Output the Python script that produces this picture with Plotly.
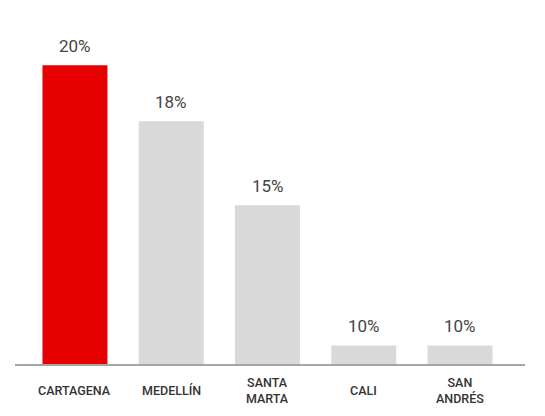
import plotly.graph_objects as go

# data
cities = ["CARTAGENA", "MEDELLÍN", "SANTA<br>MARTA", "CALI", "SAN<br>ANDRÉS"]
shares = [20, 18, 15, 10, 10]
colors = ["#E60000", "#D9D9D9", "#D9D9D9", "#D9D9D9", "#D9D9D9"]

fig = go.Figure()

fig.add_trace(go.Bar(
    x=list(range(len(cities))),
    y=shares,
    marker=dict(color=colors, line=dict(width=0)),
    hoverinfo="skip",
))

# value labels above the bars
for i, v in enumerate(shares):
    fig.add_annotation(
        x=i, y=v, xref="x", yref="y",
        text=f"{v}%", showarrow=False,
        yanchor="middle", yshift=19,
        font=dict(family="Roboto", size=17, color="#444444"),
    )

# category labels under the axis
for i, c in enumerate(cities):
    fig.add_annotation(
        x=i, y=0, xref="x", yref="paper",
        text=c, showarrow=False,
        yanchor="middle", yshift=-25,
        font=dict(family="Roboto", size=12.5, color="#333333", weight=500),
    )

fig.update_layout(
    width=545, height=416,
    margin=dict(l=7, r=28, t=10, b=59),
    paper_bgcolor="white",
    plot_bgcolor="white",
    bargap=0.325,
    showlegend=False,
)

fig.update_xaxes(
    range=[-0.623, 4.675],
    showticklabels=False,
    showgrid=False,
    zeroline=False,
    showline=False,
)

fig.update_yaxes(
    range=[9.3, 21.69],
    visible=False,
)

# baseline
fig.add_shape(type="line", xref="paper", yref="paper",
              x0=0, x1=1, y0=0, y1=0,
              line=dict(color="#A6A6A6", width=2))

fig.write_html("out.html")
